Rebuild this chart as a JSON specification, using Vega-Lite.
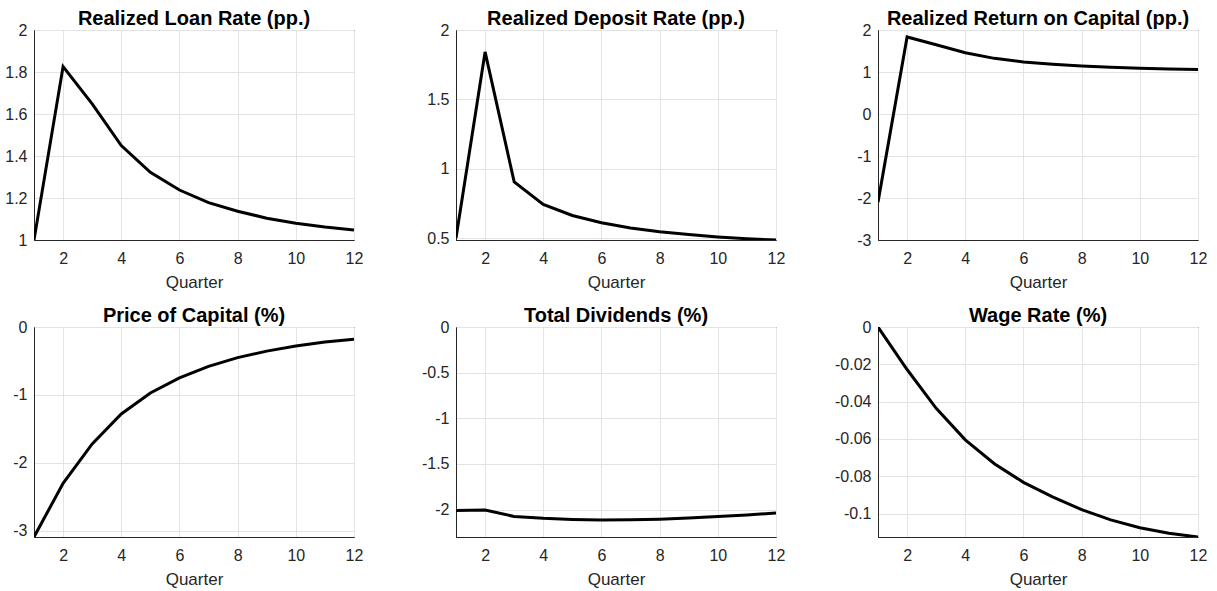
{
  "$schema": "https://vega.github.io/schema/vega-lite/v6.json",
  "padding": {"left": 4, "top": 8, "right": 5, "bottom": 5},
  "config": {
    "font": "Liberation Sans",
    "background": "white",
    "view": {"stroke": "#262626", "strokeWidth": 1},
    "axis": {
      "labelFont": "Liberation Sans", "labelFontSize": 16, "labelColor": "#262626",
      "domainColor": "#262626", "ticks": false,
      "gridColor": "#e3e3e3", "gridWidth": 1,
      "titleFont": "Liberation Sans", "titleFontWeight": "normal", "titleFontSize": 17, "titleColor": "#262626"
    },
    "axisX": {"labelPadding": 10, "titlePadding": 8, "labelFlush": false},
    "axisY": {"labelPadding": 7},
    "title": {"font": "Liberation Sans", "fontSize": 20, "fontWeight": "bold", "color": "#000000", "offset": -7},
    "locale": {"number": {"decimal": ".", "thousands": ",", "grouping": [3], "currency": ["$", ""], "minus": "-"}}
  },
  "spacing": {"row": 87, "column": 102},
  "bounds": "flush",
  "columns": 3,
  "data": {"values": [
    {"p": "loan", "q": 1, "v": 1.0}, {"p": "loan", "q": 2, "v": 1.826}, {"p": "loan", "q": 3, "v": 1.648}, {"p": "loan", "q": 4, "v": 1.45}, {"p": "loan", "q": 5, "v": 1.322}, {"p": "loan", "q": 6, "v": 1.238}, {"p": "loan", "q": 7, "v": 1.178}, {"p": "loan", "q": 8, "v": 1.137}, {"p": "loan", "q": 9, "v": 1.104}, {"p": "loan", "q": 10, "v": 1.08}, {"p": "loan", "q": 11, "v": 1.062}, {"p": "loan", "q": 12, "v": 1.048},
    {"p": "dep", "q": 1, "v": 0.5}, {"p": "dep", "q": 2, "v": 1.842}, {"p": "dep", "q": 3, "v": 0.905}, {"p": "dep", "q": 4, "v": 0.742}, {"p": "dep", "q": 5, "v": 0.663}, {"p": "dep", "q": 6, "v": 0.61}, {"p": "dep", "q": 7, "v": 0.572}, {"p": "dep", "q": 8, "v": 0.545}, {"p": "dep", "q": 9, "v": 0.525}, {"p": "dep", "q": 10, "v": 0.508}, {"p": "dep", "q": 11, "v": 0.495}, {"p": "dep", "q": 12, "v": 0.486},
    {"p": "cap", "q": 1, "v": -2.1}, {"p": "cap", "q": 2, "v": 1.834}, {"p": "cap", "q": 3, "v": 1.65}, {"p": "cap", "q": 4, "v": 1.46}, {"p": "cap", "q": 5, "v": 1.325}, {"p": "cap", "q": 6, "v": 1.24}, {"p": "cap", "q": 7, "v": 1.185}, {"p": "cap", "q": 8, "v": 1.145}, {"p": "cap", "q": 9, "v": 1.115}, {"p": "cap", "q": 10, "v": 1.09}, {"p": "cap", "q": 11, "v": 1.072}, {"p": "cap", "q": 12, "v": 1.058},
    {"p": "price", "q": 1, "v": -3.09}, {"p": "price", "q": 2, "v": -2.3}, {"p": "price", "q": 3, "v": -1.72}, {"p": "price", "q": 4, "v": -1.28}, {"p": "price", "q": 5, "v": -0.97}, {"p": "price", "q": 6, "v": -0.75}, {"p": "price", "q": 7, "v": -0.58}, {"p": "price", "q": 8, "v": -0.45}, {"p": "price", "q": 9, "v": -0.355}, {"p": "price", "q": 10, "v": -0.28}, {"p": "price", "q": 11, "v": -0.22}, {"p": "price", "q": 12, "v": -0.18},
    {"p": "div", "q": 1, "v": -2.01}, {"p": "div", "q": 2, "v": -2.005}, {"p": "div", "q": 3, "v": -2.075}, {"p": "div", "q": 4, "v": -2.095}, {"p": "div", "q": 5, "v": -2.107}, {"p": "div", "q": 6, "v": -2.113}, {"p": "div", "q": 7, "v": -2.112}, {"p": "div", "q": 8, "v": -2.105}, {"p": "div", "q": 9, "v": -2.092}, {"p": "div", "q": 10, "v": -2.076}, {"p": "div", "q": 11, "v": -2.058}, {"p": "div", "q": 12, "v": -2.038},
    {"p": "wage", "q": 1, "v": 0.0}, {"p": "wage", "q": 2, "v": -0.0228}, {"p": "wage", "q": 3, "v": -0.0436}, {"p": "wage", "q": 4, "v": -0.0605}, {"p": "wage", "q": 5, "v": -0.0733}, {"p": "wage", "q": 6, "v": -0.0833}, {"p": "wage", "q": 7, "v": -0.0911}, {"p": "wage", "q": 8, "v": -0.0979}, {"p": "wage", "q": 9, "v": -0.1034}, {"p": "wage", "q": 10, "v": -0.1076}, {"p": "wage", "q": 11, "v": -0.1106}, {"p": "wage", "q": 12, "v": -0.1126}
  ]},
  "concat": [
    {
      "title": "Realized Loan Rate (pp.)", "width": 320, "height": 210,
      "transform": [{"filter": "datum.p === 'loan'"}],
      "mark": {"type": "line", "color": "#000000", "strokeWidth": 3, "clip": true},
      "encoding": {
        "x": {"field": "q", "type": "quantitative", "scale": {"domain": [1, 12], "nice": false}, "axis": {"values": [2, 4, 6, 8, 10, 12], "title": "Quarter"}},
        "y": {"field": "v", "type": "quantitative", "scale": {"domain": [1, 2], "nice": false, "zero": false}, "axis": {"values": [1, 1.2, 1.4, 1.6, 1.8, 2], "format": "~g", "title": null}}
      }
    },
    {
      "title": "Realized Deposit Rate (pp.)", "width": 320, "height": 210,
      "transform": [{"filter": "datum.p === 'dep'"}],
      "mark": {"type": "line", "color": "#000000", "strokeWidth": 3, "clip": true},
      "encoding": {
        "x": {"field": "q", "type": "quantitative", "scale": {"domain": [1, 12], "nice": false}, "axis": {"values": [2, 4, 6, 8, 10, 12], "title": "Quarter"}},
        "y": {"field": "v", "type": "quantitative", "scale": {"domain": [0.486, 2], "nice": false, "zero": false}, "axis": {"values": [0.5, 1, 1.5, 2], "format": "~g", "title": null}}
      }
    },
    {
      "title": "Realized Return on Capital (pp.)", "width": 320, "height": 210,
      "transform": [{"filter": "datum.p === 'cap'"}],
      "mark": {"type": "line", "color": "#000000", "strokeWidth": 3, "clip": true},
      "encoding": {
        "x": {"field": "q", "type": "quantitative", "scale": {"domain": [1, 12], "nice": false}, "axis": {"values": [2, 4, 6, 8, 10, 12], "title": "Quarter"}},
        "y": {"field": "v", "type": "quantitative", "scale": {"domain": [-3, 2], "nice": false, "zero": false}, "axis": {"values": [-3, -2, -1, 0, 1, 2], "format": "~g", "title": null}}
      }
    },
    {
      "title": "Price of Capital (%)", "width": 320, "height": 210,
      "transform": [{"filter": "datum.p === 'price'"}],
      "mark": {"type": "line", "color": "#000000", "strokeWidth": 3, "clip": true},
      "encoding": {
        "x": {"field": "q", "type": "quantitative", "scale": {"domain": [1, 12], "nice": false}, "axis": {"values": [2, 4, 6, 8, 10, 12], "title": "Quarter"}},
        "y": {"field": "v", "type": "quantitative", "scale": {"domain": [-3.09, 0], "nice": false, "zero": false}, "axis": {"values": [-3, -2, -1, 0], "format": "~g", "title": null}}
      }
    },
    {
      "title": "Total Dividends (%)", "width": 320, "height": 210,
      "transform": [{"filter": "datum.p === 'div'"}],
      "mark": {"type": "line", "color": "#000000", "strokeWidth": 3, "clip": true},
      "encoding": {
        "x": {"field": "q", "type": "quantitative", "scale": {"domain": [1, 12], "nice": false}, "axis": {"values": [2, 4, 6, 8, 10, 12], "title": "Quarter"}},
        "y": {"field": "v", "type": "quantitative", "scale": {"domain": [-2.3, 0], "nice": false, "zero": false}, "axis": {"values": [-2, -1.5, -1, -0.5, 0], "format": "~g", "title": null}}
      }
    },
    {
      "title": "Wage Rate (%)", "width": 320, "height": 210,
      "transform": [{"filter": "datum.p === 'wage'"}],
      "mark": {"type": "line", "color": "#000000", "strokeWidth": 3, "clip": true},
      "encoding": {
        "x": {"field": "q", "type": "quantitative", "scale": {"domain": [1, 12], "nice": false}, "axis": {"values": [2, 4, 6, 8, 10, 12], "title": "Quarter"}},
        "y": {"field": "v", "type": "quantitative", "scale": {"domain": [-0.1126, 0], "nice": false, "zero": false}, "axis": {"values": [-0.1, -0.08, -0.06, -0.04, -0.02, 0], "format": "~g", "title": null}}
      }
    }
  ]
}
